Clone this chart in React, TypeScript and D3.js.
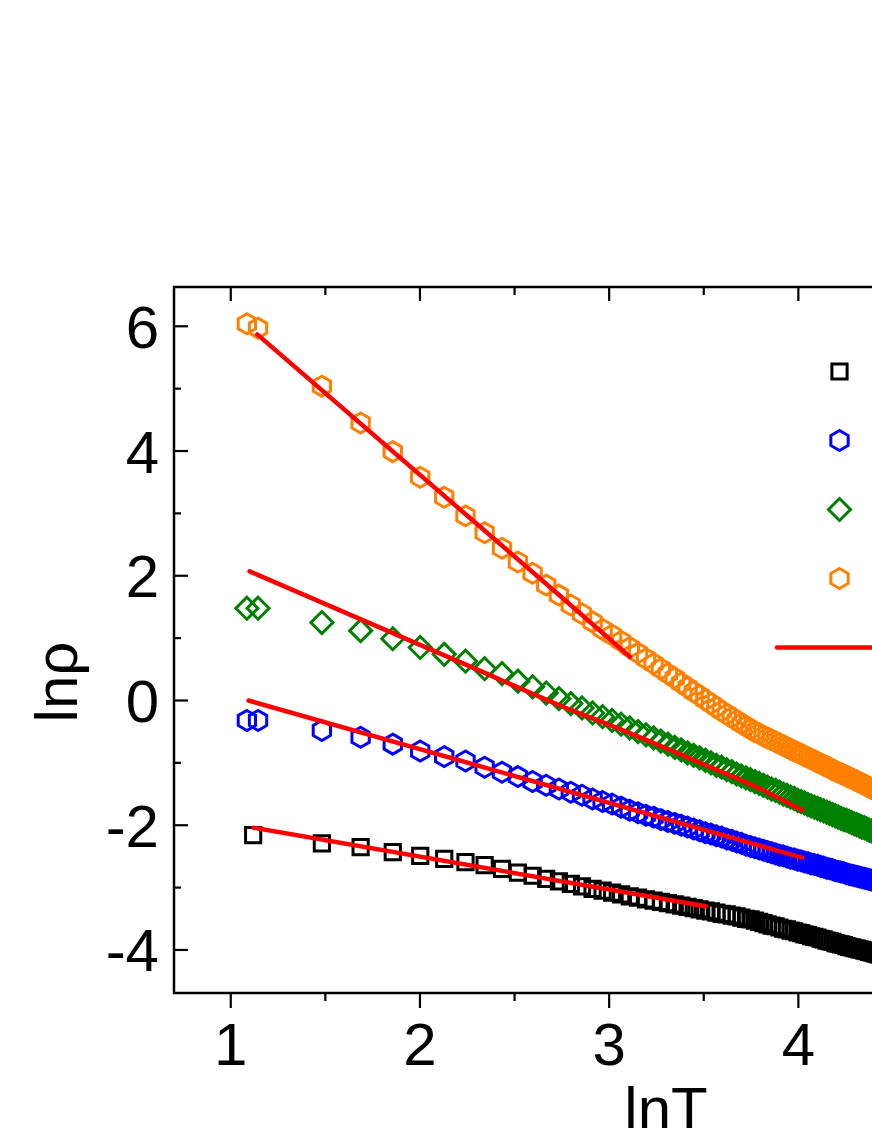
import React from 'react';
import * as d3 from 'd3';

// Temperatures (K); the chart plots lnT
const temps = [2.96, 3.06, 3.14,
  4.4, 5.4, 6.4, 7.4, 8.4, 9.4, 10.4, 11.4, 12.4, 13.4,
  14.4, 15.4, 16.4, 17.4, 18.4, 19.4, 20.4, 21.4, 22.4, 23.4,
  24.4, 25.4, 26.4, 27.4, 28.4, 29.4, 30.4, 31.4, 32.4, 33.4,
  34.4, 35.4, 36.4, 37.4, 38.4, 39.4, 40.4, 41.4, 42.4, 43.4,
  44.4, 45.4, 46.4, 47.4, 48.4, 49.4, 50.4, 51.4, 52.4, 53.4,
  54.4, 55.4, 56.4, 57.4, 58.4, 59.4, 60.4, 61.4, 62.4, 63.4,
  64.4, 65.4, 66.4, 67.4, 68.4, 69.4, 70.4, 71.4, 72.4, 73.4,
  74.4, 75.4, 76.4, 77.4, 78.4, 79.4, 80.4, 81.4, 82.4, 83.4,
  84.4, 85.4];

// lnρ values per series
const blackVals = [null, -2.16, null,
  -2.29, -2.35, -2.43, -2.49, -2.54, -2.59, -2.64, -2.70, -2.76, -2.81,
  -2.86, -2.90, -2.94, -2.98, -3.02, -3.05, -3.08, -3.11, -3.14, -3.16,
  -3.19, -3.21, -3.23, -3.25, -3.27, -3.29, -3.31, -3.33, -3.35, -3.37,
  -3.38, -3.40, -3.42, -3.43, -3.45, -3.46, -3.48, -3.50, -3.51, -3.53,
  -3.55, -3.57, -3.59, -3.61, -3.62, -3.64, -3.66, -3.67, -3.69, -3.70,
  -3.72, -3.73, -3.75, -3.76, -3.78, -3.79, -3.80, -3.82, -3.83, -3.85,
  -3.86, -3.87, -3.89, -3.90, -3.91, -3.92, -3.94, -3.95, -3.96, -3.97,
  -3.98, -3.99, -4.00, -4.01, -4.02, -4.03, -4.04, -4.05, -4.06, -4.07,
  -4.08, -4.09];

const blueVals = [-0.32, null, -0.32,
  -0.48, -0.59, -0.70, -0.81, -0.90, -0.97, -1.07, -1.15, -1.22, -1.30,
  -1.36, -1.42, -1.47, -1.52, -1.58, -1.62, -1.66, -1.71, -1.76, -1.80,
  -1.84, -1.87, -1.91, -1.94, -1.97, -2.00, -2.03, -2.06, -2.09, -2.12,
  -2.14, -2.17, -2.19, -2.22, -2.24, -2.27, -2.29, -2.32, -2.34, -2.36,
  -2.38, -2.40, -2.42, -2.44, -2.46, -2.48, -2.49, -2.51, -2.53, -2.54,
  -2.56, -2.57, -2.59, -2.60, -2.62, -2.63, -2.64, -2.66, -2.67, -2.69,
  -2.70, -2.71, -2.73, -2.74, -2.75, -2.76, -2.78, -2.79, -2.80, -2.81,
  -2.82, -2.83, -2.84, -2.85, -2.86, -2.87, -2.88, -2.89, -2.90, -2.91,
  -2.92, -2.93];

const greenVals = [1.48, null, 1.48,
  1.25, 1.12, 0.99, 0.85, 0.74, 0.63, 0.51, 0.43, 0.31, 0.22,
  0.12, 0.03, -0.05, -0.12, -0.20, -0.26, -0.32, -0.38, -0.44, -0.50,
  -0.55, -0.60, -0.65, -0.70, -0.75, -0.79, -0.84, -0.88, -0.92, -0.96,
  -1.00, -1.04, -1.07, -1.11, -1.14, -1.18, -1.21, -1.24, -1.27, -1.30,
  -1.33, -1.36, -1.39, -1.42, -1.44, -1.47, -1.50, -1.52, -1.55, -1.57,
  -1.60, -1.62, -1.64, -1.67, -1.69, -1.71, -1.73, -1.75, -1.77, -1.79,
  -1.81, -1.83, -1.85, -1.87, -1.89, -1.91, -1.92, -1.94, -1.96, -1.98,
  -1.99, -2.01, -2.03, -2.04, -2.06, -2.08, -2.09, -2.11, -2.12, -2.14,
  -2.15, -2.17];

const orangeVals = [6.04, null, 5.97,
  5.04, 4.45, 3.99, 3.58, 3.26, 2.96, 2.69, 2.44, 2.22, 2.04,
  1.85, 1.69, 1.53, 1.39, 1.26, 1.14, 1.05, 0.95, 0.85, 0.76,
  0.67, 0.59, 0.51, 0.43, 0.36, 0.28, 0.21, 0.14, 0.08, 0.01,
  -0.05, -0.11, -0.17, -0.22, -0.27, -0.32, -0.37, -0.41, -0.46, -0.50,
  -0.53, -0.57, -0.60, -0.63, -0.66, -0.69, -0.72, -0.75, -0.78, -0.81,
  -0.83, -0.86, -0.89, -0.91, -0.94, -0.96, -0.99, -1.01, -1.04, -1.06,
  -1.08, -1.11, -1.13, -1.15, -1.17, -1.19, -1.21, -1.23, -1.25, -1.27,
  -1.29, -1.31, -1.33, -1.35, -1.37, -1.39, -1.41, -1.43, -1.45, -1.46,
  -1.48, -1.50];

// Fit lines (lnT, lnρ)
const fitBlackX = [1.12, 3.51];
const fitBlackY = [-2.04, -3.30];
const fitBlueX = [1.094, 4.02];
const fitBlueY = [0.0, -2.52];
const fitGreenX = [1.10, 2.27, 2.74, 3.09, 3.45, 3.80, 4.02];
const fitGreenY = [2.07, 0.54, -0.08, -0.50, -0.96, -1.42, -1.76];
const fitOrangeX = [1.14, 2.74, 3.11];
const fitOrangeY = [5.87, 1.68, 0.70];

const xMajor = [1, 2, 3, 4, 5];
const xMinor = [1.5, 2.5, 3.5, 4.5];
const xLabels = [1, 2, 3, 4];
const yMajor = [-4, -2, 0, 2, 4, 6];
const yMinor = [-3, -1, 1, 3, 5];

const W = 872;
const H = 1128;
const L = 174, T0 = 287, B = 993, R = 960;
const FONT = '"Liberation Sans", Arial, Helvetica, sans-serif';

const hexType = {
  draw(ctx: any, r: number) {
    for (let i = 0; i < 6; i++) {
      const a = (-90 + 60 * i) * Math.PI / 180;
      const px = r * Math.cos(a), py = r * Math.sin(a);
      if (i === 0) ctx.moveTo(px, py); else ctx.lineTo(px, py);
    }
    ctx.closePath();
  }
};
const diamondType = {
  draw(ctx: any, r: number) {
    ctx.moveTo(0, -r); ctx.lineTo(r, 0); ctx.lineTo(0, r); ctx.lineTo(-r, 0); ctx.closePath();
  }
};
const squareType = {
  draw(ctx: any, h: number) {
    ctx.moveTo(-h, -h); ctx.lineTo(h, -h); ctx.lineTo(h, h); ctx.lineTo(-h, h); ctx.closePath();
  }
};

const hexPath = d3.symbol().type(hexType as any).size(10)() as string;
const diamondPath = d3.symbol().type(diamondType as any).size(11)() as string;
const squarePath = d3.symbol().type(squareType as any).size(7.6)() as string;

const MS = 3;

const series = [
  { vals: blackVals, color: '#000000', path: squarePath },
  { vals: blueVals, color: '#0000ff', path: hexPath },
  { vals: greenVals, color: '#008000', path: diamondPath },
  { vals: orangeVals, color: '#ff8000', path: hexPath },
];

const fits = [
  { xs: fitBlackX, ys: fitBlackY },
  { xs: fitBlueX, ys: fitBlueY },
  { xs: fitGreenX, ys: fitGreenY },
  { xs: fitOrangeX, ys: fitOrangeY },
];

export default function App() {
  const x = d3.scaleLinear().domain([0.7, 4.7]).range([L, L + 4 * 189.2]);
  const y = d3.scaleLinear().domain([-4.69, 6.63]).range([B, T0]);
  const line = d3.line<[number, number]>()
    .x(d => x(d[0])).y(d => y(d[1])).curve(d3.curveMonotoneX);

  return (
    <svg width={W} height={H} style={{ position: 'absolute', left: 0, top: 0, background: '#fff' }}
      viewBox={`0 0 ${W} ${H}`}>
      <defs>
        <clipPath id="plotclip">
          <rect x={L} y={T0} width={R - L} height={B - T0} />
        </clipPath>
      </defs>
      <rect x={0} y={0} width={W} height={H} fill="#fff" />
      <g clipPath="url(#plotclip)">
        {series.map((s, si) => (
          <g key={si} fill="none" stroke={s.color} strokeWidth={MS} strokeLinejoin="miter">
            {temps.map((t, i) => s.vals[i] == null ? null : (
              <path key={i} d={s.path}
                transform={`translate(${x(Math.log(t))},${y(s.vals[i] as number)})`} />
            ))}
          </g>
        ))}
        {fits.map((f, fi) => (
          <path key={fi} d={line(f.xs.map((v, i) => [v, f.ys[i]] as [number, number])) as string}
            fill="none" stroke="#ff0000" strokeWidth={4.5} strokeLinecap="round" />
        ))}
      </g>
      {/* frame */}
      <rect x={L} y={T0} width={R - L} height={B - T0} fill="none" stroke="#000" strokeWidth={2.5} />
      {/* ticks */}
      <g stroke="#000" strokeWidth={2.2}>
        {xMajor.map(v => (
          <g key={'xM' + v}>
            <line x1={x(v)} x2={x(v)} y1={B} y2={B + 15} />
            <line x1={x(v)} x2={x(v)} y1={T0} y2={T0 + 14} />
          </g>
        ))}
        {xMinor.map(v => (
          <g key={'xm' + v}>
            <line x1={x(v)} x2={x(v)} y1={B} y2={B + 8} />
            <line x1={x(v)} x2={x(v)} y1={T0} y2={T0 + 8} />
          </g>
        ))}
        {yMajor.map(v => (
          <line key={'yM' + v} x1={L} x2={L + 14} y1={y(v)} y2={y(v)} />
        ))}
        {yMinor.map(v => (
          <line key={'ym' + v} x1={L} x2={L + 7} y1={y(v)} y2={y(v)} />
        ))}
      </g>
      {/* tick labels */}
      <g fontFamily={FONT} fontSize={60} fill="#000">
        {xLabels.map(v => (
          <text key={'xl' + v} x={x(v)} y={1065} textAnchor="middle">{v}</text>
        ))}
        {yMajor.map(v => (
          <text key={'yl' + v} x={159} y={y(v) + 21.5} textAnchor="end">{v}</text>
        ))}
        <text x={666} y={1129} textAnchor="middle">lnT</text>
        <text transform={`translate(77,682) rotate(-90)`} textAnchor="middle">lnρ</text>
      </g>
      {/* legend */}
      <g fill="none" strokeWidth={MS}>
        <path d={squarePath} stroke="#000000" transform="translate(839.5,371.5)" />
        <path d={hexPath} stroke="#0000ff" transform="translate(839.5,440.5)" />
        <path d={diamondPath} stroke="#008000" transform="translate(839.5,509.5)" />
        <path d={hexPath} stroke="#ff8000" transform="translate(839.5,578.5)" />
        <line x1={777} x2={900} y1={647.5} y2={647.5} stroke="#ff0000" strokeWidth={4.5} strokeLinecap="round" />
      </g>
    </svg>
  );
}
